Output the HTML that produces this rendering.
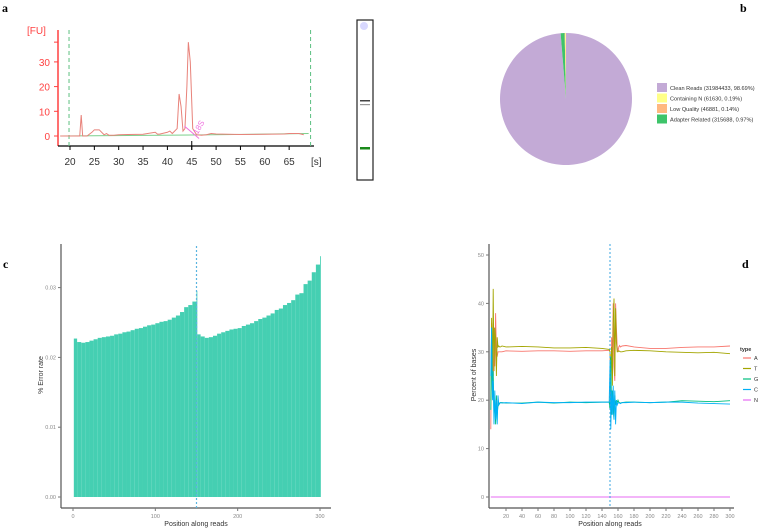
<!DOCTYPE html>
<html><head><meta charset="utf-8">
<style>
body{margin:0;background:#fff;}
svg{display:block;font-family:"Liberation Sans",sans-serif;}
</style></head>
<body>
<svg id="fig" width="758" height="528" viewBox="0 0 758 528">
 <text x="2" y="12" font-family="Liberation Serif" font-weight="bold" font-size="12">a</text>
 <text x="740" y="12" font-family="Liberation Serif" font-weight="bold" font-size="12">b</text>
 <text x="3" y="268" font-family="Liberation Serif" font-weight="bold" font-size="12">c</text>
 <text x="742" y="268" font-family="Liberation Serif" font-weight="bold" font-size="12">d</text>
 <g id="pa"></g>
 <g id="pb"></g>
 <g id="pc"></g>
 <g id="pd"></g>
</svg>
<script>
// ---------- Panel a data ----------
const aTimes = [18,22,22.3,22.6,23,23.5,24.5,25,26,27,27.5,28,29,30,32,35,37.5,38,38.5,40,40.5,41,42,42.4,42.8,43.2,43.6,44,44.3,44.7,45.2,46,47,48,49,50,55,60,64,65,67,68];
const aFU =    [0,0,8.5,0,0,0,1.5,2.5,2.5,0.5,1,0.3,0.3,0.5,0.6,0.7,1.5,0.7,0.8,1.5,2,1,3,17,12,2,3,20,38,30,3,0.5,0.3,0.5,1,0.8,0.6,0.7,0.8,1,1,0.5];
const aXTicks = [20,25,30,35,40,45,50,55,60,65];
const aYTicks = [0,10,20,30];
// ---------- Panel b data ----------
const bLabels = ["Clean Reads (31984433, 98.69%)","Containing N (61630, 0.19%)","Low Quality (46881, 0.14%)","Adapter Related (315688, 0.97%)"];
const bValues = [98.69,0.19,0.14,0.97];
// ---------- Panel c data (every 5 positions) ----------
const cPos = [1,5,10,15,20,25,30,35,40,45,50,55,60,65,70,75,80,85,90,95,100,105,110,115,120,125,130,135,140,145,150,151,155,160,165,170,175,180,185,190,195,200,205,210,215,220,225,230,235,240,245,250,255,260,265,270,275,280,285,290,295,300];
const cErr = [0.0227,0.0222,0.0221,0.0222,0.0224,0.0226,0.0228,0.0229,0.023,0.0231,0.0233,0.0234,0.0236,0.0237,0.0239,0.0241,0.0242,0.0244,0.0246,0.0247,0.0249,0.0251,0.0252,0.0254,0.0257,0.026,0.0265,0.0272,0.0275,0.028,0.0295,0.0233,0.023,0.0228,0.0229,0.0231,0.0234,0.0236,0.0238,0.024,0.0241,0.0242,0.0245,0.0247,0.0249,0.0252,0.0255,0.0257,0.026,0.0263,0.0268,0.027,0.0275,0.0278,0.0282,0.029,0.0292,0.0305,0.031,0.0322,0.0333,0.0345];
const cYTicks = [0,0.01,0.02,0.03];
const cXTicks = [0,100,200,300];
// ---------- Panel d data ----------
const dPos = [1,2,3,4,5,6,7,8,9,10,11,12,13,15,20,40,60,80,100,120,140,149,150,151,152,153,154,155,156,157,158,159,160,161,162,163,165,170,180,200,220,240,260,280,300];
const dA = [14,36,27,25,35,27,38,30,29,30,30,30,30,30,30.2,30.1,30.2,30.2,30.1,30.2,30.2,30.3,30.1,20,33,29,40,27,24,40,35,31,30,31,31.3,31,31.2,31.3,31,30.7,30.7,30.9,31,31,31.2];
const dT = [20,37,22,43,26,35,33,25,33,31,31.2,31,31,31.2,31,31.1,31,30.8,30.8,30.9,30.7,30.5,30,26,31,23,36,41,25,39,32,30,30,30.2,30.1,30,30,30.2,30.3,30.2,30,29.9,29.8,29.9,29.6];
const dG = [18,35,22,26,17,20,15,21,17,19,19.5,19.3,19.5,19.5,19.4,19.4,19.6,19.4,19.6,19.5,19.6,19.6,18,29,17,22,18,16,21,19,20,19.5,20,19.6,19.5,19.4,19.5,19.6,19.6,19.5,19.6,19.9,19.8,19.7,19.9];
const dC = [25,35,20,24,15,22,16,20,15,21,19,19.3,19.5,19.4,19.5,19.3,19.6,19.5,19.5,19.6,19.6,19.6,28,14,22,17,23,16,22,15,20,19,19.4,19.5,19.4,19.3,19.5,19.5,19.6,19.5,19.6,19.6,19.4,19.3,19.2];
const dN = [0,0];
const dNPos = [1,300];
const dYTicks = [0,10,20,30,40,50];
const dXTicks = [20,40,60,80,100,120,140,160,180,200,220,240,260,280,300];
const dTypes = ["A","T","G","C","N"];

const NS="http://www.w3.org/2000/svg";
function mk(p,tag,at,txt){const e=document.createElementNS(NS,tag);for(const k in at)e.setAttribute(k,at[k]);if(txt!==undefined)e.textContent=txt;p.appendChild(e);return e;}

// ===== Panel a =====
(function(){
 const g=document.getElementById('pa');
 const X=t=>70+(t-20)*4.87, Y=v=>136-v*2.47;
 let e=mk(g,'text',{x:27,y:34,fill:'#ff4040','font-size':10},'[FU]');
 
 e=mk(g,'line',{x1:58,y1:30,x2:58,y2:146,stroke:'#ff4040','stroke-width':1.5});
 
 aYTicks.forEach(v=>{mk(g,'line',{x1:54,x2:58,y1:Y(v),y2:Y(v),stroke:'#ff4040'});
  e=mk(g,'text',{x:50,y:Y(v)+4,'text-anchor':'end',fill:'#ff4040','font-size':10},String(v));
  });
 mk(g,'line',{x1:54,x2:58,y1:Y(38),y2:Y(38),stroke:'#ff4040'});
 e=mk(g,'line',{x1:58,y1:146,x2:314,y2:146,stroke:'#000','stroke-width':1.2});
 
 aXTicks.forEach(t=>{mk(g,'line',{x1:X(t),x2:X(t),y1:146,y2:150,stroke:'#000'});
  e=mk(g,'text',{x:X(t),y:165,'text-anchor':'middle',fill:'#333','font-size':10},String(t));
  });
 mk(g,'line',{x1:X(45),x2:X(45),y1:141,y2:150,stroke:'#000'});
 mk(g,'text',{x:311,y:165,fill:'#333','font-size':10},'[s]');
 [19.8,69.4].forEach(t=>{e=mk(g,'line',{x1:X(t),x2:X(t),y1:30,y2:146,stroke:'#5cbf80','stroke-dasharray':'4,3'});
  });
 e=mk(g,'polyline',{points:`${X(18)},${Y(0)} ${X(45)},${Y(0.4)} ${X(69)},${Y(1)}`,fill:'none',stroke:'#7cd08c'});
 
 e=mk(g,'polyline',{points:aTimes.map((t,i)=>X(t)+','+Y(aFU[i])).join(' '),fill:'none',stroke:'#e8827a','stroke-width':1});
 
 mk(g,'line',{x1:X(43.5),y1:Y(4),x2:X(46.5),y2:Y(-1),stroke:'#f070e0'});
 e=mk(g,'text',{x:X(46.2),y:Y(0.5),fill:'#f070e0','font-size':8,transform:`rotate(-60 ${X(46.2)} ${Y(0.5)})`},'18S');
 
 e=mk(g,'rect',{x:357,y:20,width:16,height:160,fill:'#fff',stroke:'#222','stroke-width':1.2});
 
 mk(g,'circle',{cx:364,cy:26,r:4,fill:'#d8d8ff'});
 mk(g,'rect',{x:360,y:100,width:10,height:1.5,fill:'#444'});
 mk(g,'rect',{x:360,y:104,width:10,height:1.2,fill:'#999'});
 mk(g,'rect',{x:360,y:147,width:10,height:2.5,fill:'#1a8a1a'});
})();

// ===== Panel b =====
(function(){
 const g=document.getElementById('pb');
 const cx=566,cy=99,r=66;
 const cols=['#c3aad6','#ffff88','#ffb880','#3ec46a'];
 const tot=bValues.reduce((a,b)=>a+b,0);
 let ang=0;
 const order=[0,3,2,1];
 order.forEach(i=>{
  const a0=ang, a1=ang+bValues[i]/tot*2*Math.PI; ang=a1;
  const p=(a)=>[cx+r*Math.sin(a),cy-r*Math.cos(a)];
  const [x0,y0]=p(a0),[x1,y1]=p(a1);
  const e=mk(g,'path',{d:`M${cx},${cy} L${x0},${y0} A${r},${r} 0 ${a1-a0>Math.PI?1:0} 1 ${x1},${y1} Z`,fill:cols[i]});
  
 });
 bLabels.forEach((l,i)=>{
  const y=83+i*10.5;
  let e=mk(g,'rect',{x:657,y:y,width:10,height:9,fill:cols[i]});
  
  e=mk(g,'text',{x:670,y:y+7,'font-size':5.6,fill:'#333'},l);
  
 });
})();

// ===== Panel c =====
(function(){
 const g=document.getElementById('pc');
 const X=p=>73+p*(247/300), Y=v=>497-v*6980;
 let e=mk(g,'line',{x1:61,y1:244,x2:61,y2:508,stroke:'#555','stroke-width':1.2});
 
 e=mk(g,'line',{x1:61,y1:508,x2:331,y2:508,stroke:'#555','stroke-width':1.2});
 
 cYTicks.forEach(v=>{mk(g,'line',{x1:58,x2:61,y1:Y(v),y2:Y(v),stroke:'#777'});
  e=mk(g,'text',{x:56,y:Y(v)+2,'text-anchor':'end','font-size':5.5,fill:'#888'},v.toFixed(2));
  });
 cXTicks.forEach(v=>{mk(g,'line',{x1:X(v),x2:X(v),y1:508,y2:511,stroke:'#777'});
  e=mk(g,'text',{x:X(v),y:518,'text-anchor':'middle','font-size':5.5,fill:'#888'},String(v));
  });
 cPos.forEach((p,i)=>{
  const nx = i<cPos.length-1 ? cPos[i+1] : 301;
  e=mk(g,'rect',{x:X(p),y:Y(cErr[i]),width:Math.max(X(nx)-X(p),0.3),height:Y(0)-Y(cErr[i]),fill:'#45cfb2'});
  
 });
 e=mk(g,'line',{x1:X(150),x2:X(150),y1:246,y2:508,stroke:'#5ab4e0','stroke-dasharray':'2,2','stroke-width':1.2});
 
 e=mk(g,'text',{x:196,y:526,'text-anchor':'middle','font-size':7,fill:'#333'},'Position along reads');
 
 e=mk(g,'text',{x:43,y:375,'text-anchor':'middle','font-size':7,fill:'#333',transform:'rotate(-90 43 375)'},'% Error rate');
 
})();

// ===== Panel d =====
(function(){
 const g=document.getElementById('pd');
 const X=p=>490+p*0.8, Y=v=>497-v*4.84;
 let e=mk(g,'line',{x1:489,y1:244,x2:489,y2:508,stroke:'#555','stroke-width':1.2});
 
 e=mk(g,'line',{x1:489,y1:508,x2:734,y2:508,stroke:'#555','stroke-width':1.2});
 
 dYTicks.forEach(v=>{mk(g,'line',{x1:486,x2:489,y1:Y(v),y2:Y(v),stroke:'#777'});
  e=mk(g,'text',{x:484,y:Y(v)+2,'text-anchor':'end','font-size':5.5,fill:'#888'},String(v));
  });
 dXTicks.forEach(v=>{mk(g,'line',{x1:X(v),x2:X(v),y1:508,y2:511,stroke:'#777'});
  e=mk(g,'text',{x:X(v),y:518,'text-anchor':'middle','font-size':5.5,fill:'#888'},String(v));
  });
 const cols={A:'#F8766D',T:'#A3A500',G:'#00BF7D',C:'#00B0F6',N:'#E76BF3'};
 const series={A:[dPos,dA],T:[dPos,dT],G:[dPos,dG],C:[dPos,dC],N:[dNPos,dN]};
 dTypes.forEach(k=>{
  const [ps,vs]=series[k];
  e=mk(g,'polyline',{points:ps.map((p,i)=>X(p)+','+Y(vs[i])).join(' '),fill:'none',stroke:cols[k],'stroke-width':0.9});
  
 });
 e=mk(g,'line',{x1:X(150),x2:X(150),y1:244,y2:508,stroke:'#3aa6e0','stroke-dasharray':'2,2','stroke-width':1});
 
 e=mk(g,'text',{x:610,y:526,'text-anchor':'middle','font-size':7,fill:'#333'},'Position along reads');
 
 e=mk(g,'text',{x:476,y:375,'text-anchor':'middle','font-size':7,fill:'#333',transform:'rotate(-90 476 375)'},'Percent of bases');
 
 e=mk(g,'text',{x:740,y:351,'font-size':5.5,'font-weight':'bold',fill:'#333'},'type');
 
 dTypes.forEach((k,i)=>{
  const y=358+i*10.5;
  mk(g,'line',{x1:743,x2:751,y1:y,y2:y,stroke:cols[k],'stroke-width':1.2});
  e=mk(g,'text',{x:754,y:y+2,'font-size':5.5,fill:'#333'},k);
  
 });
})();
</script>
</body></html>
